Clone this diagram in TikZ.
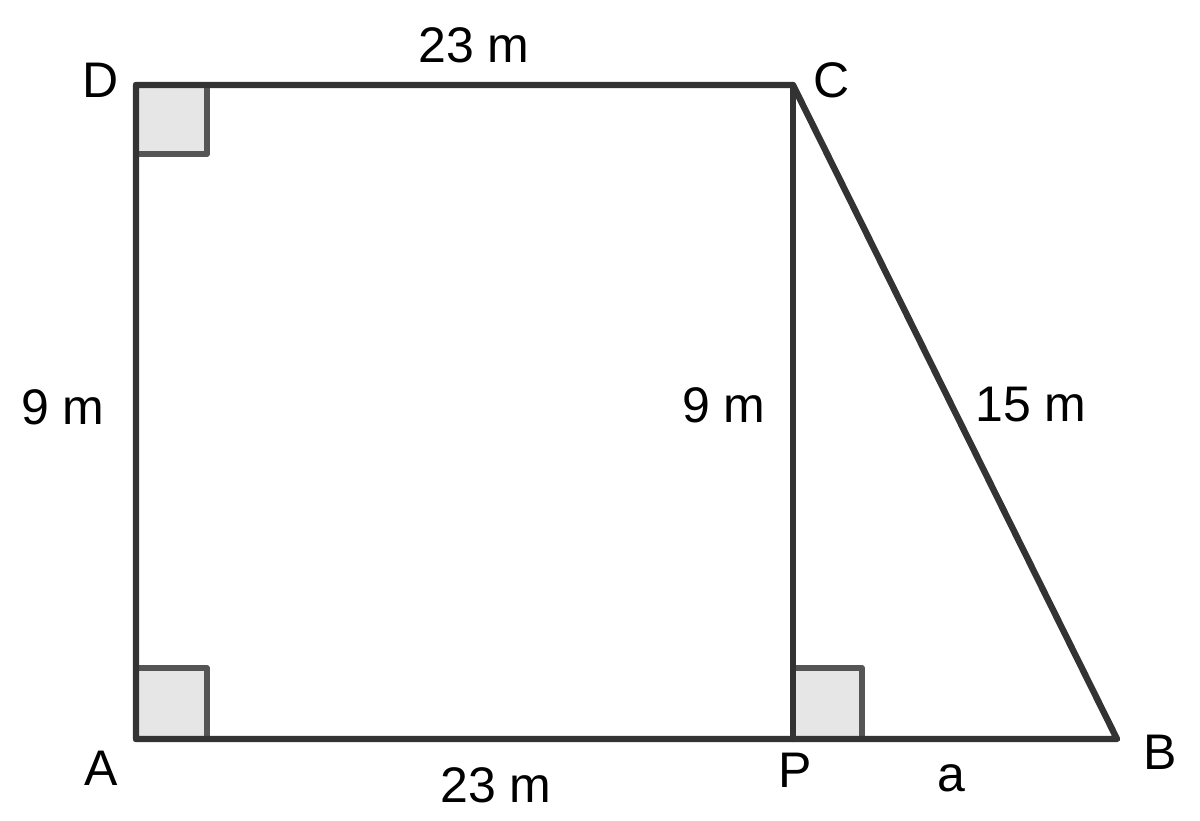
\documentclass[tikz,border=0pt]{standalone}
\usepackage{fontspec}
\setmainfont{Liberation Sans}
\begin{document}
\begin{tikzpicture}[x=0.75pt,y=-0.75pt,
  edge/.style={draw={rgb,255:red,51;green,51;blue,51},line width=4.8pt,line cap=round,line join=round},
  rightmark/.style={fill={rgb,255:red,230;green,230;blue,230},draw={rgb,255:red,85;green,85;blue,85},line width=4.4pt,line join=round},
  lbl/.style={font=\fontsize{37.5}{44}\selectfont,inner sep=0pt,text=black}]
\useasboundingbox (0,0) rectangle (1200,821);
\coordinate (D) at (136,85);
\coordinate (C) at (793,85);
\coordinate (A) at (136,739);
\coordinate (P) at (793,739);
\coordinate (B) at (1117,739);
% right angle marks
\draw[rightmark] (D) rectangle ++(71,69);
\draw[rightmark] (A) rectangle ++(71,-71);
\draw[rightmark] (P) rectangle ++(69,-71);
% edges
\draw[edge] (A) -- (D) -- (C) -- (B) -- cycle;
\draw[edge] (C) -- (P);
% labels
\node[lbl] (lD) at (101,80) {D};
\node[lbl] (lC) at (832,80) {C};
\node[lbl] (lA) at (101,768) {A};
\node[lbl] (lP) at (795,770) {P};
\node[lbl] (lB) at (1160,752) {B};
\node[lbl] (tDC) at (474,45) {23 m};
\node[lbl] (tAP) at (496,785) {23 m};
\node[lbl] (tAD) at (63,407) {9 m};
\node[lbl] (tCP) at (724,405) {9 m};
\node[lbl] (tCB) at (1031,405) {15 m};
\node[lbl] (ta) at (951,778) {a};
\end{tikzpicture}
\end{document}
